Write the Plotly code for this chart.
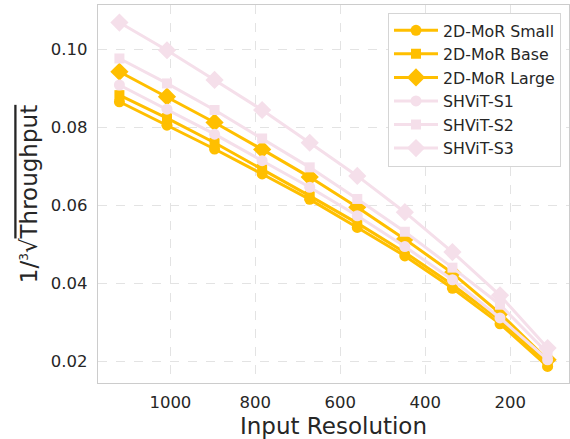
import plotly.graph_objects as go

resolution = [1120, 1008, 896, 784, 672, 560, 448, 336, 224, 112]

mor_small = [0.0865, 0.0805, 0.0744, 0.0680, 0.0615, 0.0543, 0.0470, 0.0387, 0.0296, 0.0187]
mor_base = [0.0882, 0.0823, 0.0760, 0.0693, 0.0624, 0.0554, 0.0479, 0.0396, 0.0305, 0.0195]
mor_large = [0.0942, 0.0878, 0.0812, 0.0743, 0.0672, 0.0595, 0.0513, 0.0426, 0.0323, 0.0204]
shvit_s1 = [0.0908, 0.0846, 0.0782, 0.0714, 0.0646, 0.0573, 0.0494, 0.0409, 0.0311, 0.0204]
shvit_s2 = [0.0976, 0.0912, 0.0844, 0.0771, 0.0697, 0.0616, 0.0532, 0.0440, 0.0345, 0.0221]
shvit_s3 = [0.1068, 0.0997, 0.0921, 0.0844, 0.0760, 0.0675, 0.0582, 0.0480, 0.0369, 0.0234]

x_ticks = [1000, 800, 600, 400, 200]
y_ticks = [0.02, 0.04, 0.06, 0.08, 0.10]

ORANGE = "#FFBF00"
PINK = "#F5DFEA"

series = [
    ("2D-MoR Small", mor_small, ORANGE, "circle", 11),
    ("2D-MoR Base", mor_base, ORANGE, "square", 10),
    ("2D-MoR Large", mor_large, ORANGE, "diamond", 14),
    ("SHViT-S1", shvit_s1, PINK, "circle", 11),
    ("SHViT-S2", shvit_s2, PINK, "square", 10),
    ("SHViT-S3", shvit_s3, PINK, "diamond", 14),
]

fig = go.Figure()
for name, vals, col, sym, sz in series:
    fig.add_trace(go.Scatter(
        x=resolution, y=vals, name=name, mode="lines+markers",
        line=dict(color=col, width=3),
        marker=dict(symbol=sym, size=sz, color=col, line=dict(width=0)),
    ))

FONT = "DejaVu Sans"
fig.update_layout(
    width=570, height=439,
    margin=dict(l=98, r=1, t=5, b=56),
    paper_bgcolor="white", plot_bgcolor="white",
    font=dict(family=FONT, color="#262626", size=16.5),
    legend=dict(
        x=0.983, y=0.98, xanchor="right", yanchor="top",
        bgcolor="white", bordercolor="#D5D5D5", borderwidth=1,
        font=dict(family=FONT, size=15.8, color="#262626"),
        traceorder="normal", itemwidth=44,
    ),
    showlegend=True,
)
fig.update_xaxes(
    range=[1170.4, 61.6], tickvals=x_ticks, ticktext=[str(v) for v in x_ticks],
    showgrid=True, gridcolor="#E3E3E3", griddash="dash", gridwidth=0.8,
    showline=True, linecolor="#CCCCCC", linewidth=1.3, mirror=True,
    ticks="", zeroline=False, automargin=False, ticklabelstandoff=4,
    tickfont=dict(family=FONT, size=16.5, color="#262626"),
    title=dict(text="Input Resolution", font=dict(family=FONT, size=23, color="#262626"), standoff=6),
)
fig.update_yaxes(
    range=[0.01444, 0.1113], tickvals=y_ticks, ticktext=["%.2f" % v for v in y_ticks],
    showgrid=True, gridcolor="#E3E3E3", griddash="dash", gridwidth=0.8,
    showline=True, linecolor="#CCCCCC", linewidth=1.3, mirror=True,
    ticks="", zeroline=False, automargin=False, ticklabelstandoff=6,
    tickfont=dict(family=FONT, size=16.5, color="#262626"),
    title=dict(text="1/<sup><span style='font-size:12px'>3</span></sup>√<span style='text-decoration:overline'>Throughput</span>",
               font=dict(family=FONT, size=23, color="#262626"), standoff=6),
)
fig.write_html("out.html", config={"displayModeBar": False},
               post_script="document.body.style.margin='0';")
